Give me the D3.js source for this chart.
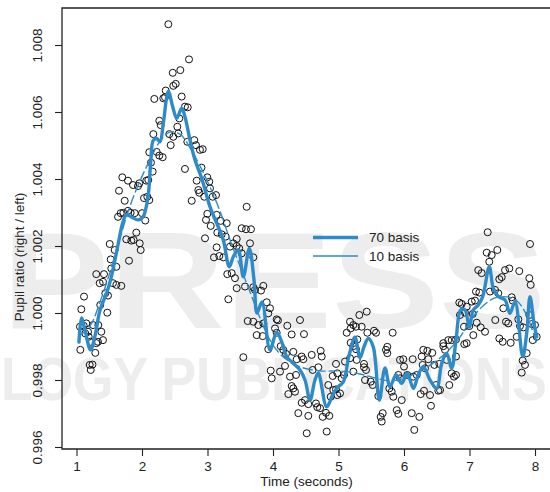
<!DOCTYPE html>
<html>
<head>
<meta charset="utf-8">
<script src="https://cdn.jsdelivr.net/npm/d3@7"></script>
<style>
    body { margin: 0; background: white; }
    svg { display: block; font-family: 'Liberation Sans', Arial, Helvetica, sans-serif; }
</style>
</head>
<body>
<svg class="main" width="550" height="492"></svg>
<script>
// observations: [time (s), pupil ratio]
const observations = [
    [1.058,0.99890],[1.073,1.00011],[1.115,1.00049],[1.110,0.99962],[1.150,0.99969],[1.134,0.99939],
    [1.176,0.99944],[1.186,0.99929],[1.211,0.99914],[1.252,0.99964],[1.287,0.99881],[1.302,0.99910],
    [1.328,0.99914],[1.379,0.99944],[1.405,0.99919],[1.202,0.99845],[1.244,0.99846],[1.217,0.99830],
    [1.363,1.00024],[1.470,1.00001],[1.440,1.00059],[1.481,1.00052],[1.354,1.00089],[1.405,1.00093],
    [1.302,1.00116],[1.420,1.00116],[1.557,1.00089],[1.608,1.00084],[1.684,1.00081],[1.531,1.00133],
    [1.608,1.00138],[1.522,1.00160],[1.507,1.00206],[1.583,1.00188],[1.802,1.00156],[1.760,1.00220],
    [1.837,1.00216],[1.873,1.00218],[1.913,1.00240],[1.965,1.00208],[1.980,1.00188],[1.634,1.00287],
    [1.675,1.00298],[1.715,1.00299],[1.786,1.00305],[1.827,1.00299],[1.889,1.00298],[2.000,1.00298],
    [2.050,1.00276],[1.736,1.00335],[1.649,1.00365],[1.699,1.00405],[1.786,1.00395],[1.863,1.00382],
    [1.939,1.00379],[1.959,1.00387],[2.066,1.00395],[2.031,1.00343],[2.081,1.00347],[1.053,0.99959],
    [1.333,0.99964],[2.402,1.00862],[2.718,1.00757],[2.469,1.00717],[2.585,1.00725],[2.478,1.00678],
    [2.515,1.00684],[2.362,1.00664],[2.188,1.00639],[2.325,1.00641],[2.351,1.00644],[2.606,1.00646],
    [2.656,1.00616],[2.698,1.00614],[2.569,1.00581],[2.264,1.00574],[2.285,1.00561],[2.539,1.00556],
    [2.173,1.00534],[2.417,1.00534],[2.478,1.00526],[2.554,1.00536],[2.438,1.00501],[2.692,1.00511],
    [2.798,1.00516],[2.824,1.00501],[2.885,1.00487],[2.927,1.00489],[2.111,1.00480],[2.224,1.00481],
    [2.264,1.00470],[2.316,1.00465],[2.137,1.00449],[2.163,1.00422],[2.096,1.00397],[2.656,1.00430],
    [2.835,1.00395],[2.997,1.00405],[3.027,1.00392],[2.860,1.00367],[2.875,1.00359],[3.038,1.00372],
    [3.079,1.00347],[3.130,1.00352],[2.759,1.00335],[2.111,1.00337],[2.908,1.00434],[2.951,1.00347],
    [3.598,1.00317],[2.997,1.00296],[3.140,1.00293],[3.202,1.00275],[3.293,1.00268],[2.977,1.00278],
    [3.049,1.00260],[3.522,1.00253],[3.588,1.00250],[3.664,1.00250],[3.150,1.00240],[3.217,1.00235],
    [3.278,1.00228],[2.962,1.00223],[3.446,1.00221],[3.394,1.00208],[3.649,1.00208],[3.140,1.00196],
    [3.344,1.00198],[3.446,1.00200],[3.485,1.00193],[3.099,1.00166],[3.180,1.00170],[3.241,1.00166],
    [3.522,1.00178],[3.699,1.00166],[3.302,1.00116],[3.369,1.00119],[3.420,1.00104],[3.573,1.00079],
    [3.699,1.00077],[3.817,1.00067],[3.852,1.00081],[3.446,1.00074],[3.318,1.00041],[3.904,1.00032],
    [3.954,1.00014],[3.928,0.99999],[3.614,0.99976],[3.699,0.99974],[3.776,0.99964],[3.852,0.99969],
    [4.056,0.99981],[4.218,0.99962],[4.412,0.99979],[3.751,0.99934],[3.843,0.99931],[4.056,0.99941],
    [4.285,0.99936],[3.547,0.99868],[3.725,1.00069],[4.076,0.99978],[4.473,0.99937],[4.031,0.99954],
    [3.928,0.99892],[4.118,0.99901],[4.157,0.99890],[4.198,0.99878],[4.310,0.99884],[4.362,0.99862],
    [4.438,0.99870],[4.463,0.99862],[4.591,0.99875],[4.728,0.99887],[4.744,0.99870],[3.965,0.99828],
    [3.980,0.99805],[4.107,0.99825],[4.183,0.99842],[4.260,0.99810],[4.351,0.99815],[4.285,0.99782],
    [4.310,0.99775],[4.234,0.99758],[4.336,0.99765],[4.692,0.99838],[4.606,0.99830],[4.438,0.99732],
    [4.489,0.99740],[4.539,0.99728],[4.656,0.99730],[4.676,0.99719],[4.718,0.99716],[4.386,0.99701],
    [4.539,0.99693],[4.515,0.99641],[4.820,0.99646],[4.759,0.99690],[4.809,0.99702],[4.860,0.99693],
    [4.881,0.99750],[4.921,0.99770],[4.962,0.99772],[4.982,0.99755],[5.023,0.99760],[4.844,0.99785],
    [4.911,0.99812],[4.982,0.99820],[5.049,0.99805],[5.084,0.99815],[4.962,0.99848],[5.099,0.99855],
    [5.176,0.99865],[5.278,0.99860],[5.125,0.99941],[5.186,0.99954],[5.226,0.99964],[5.176,0.99974],
    [5.267,0.99959],[5.318,0.99994],[5.226,0.99901],[5.267,0.99892],[5.186,0.99911],[5.287,0.99921],
    [5.431,1.00004],[5.354,0.99959],[5.440,0.99941],[5.542,0.99947],[5.573,0.99941],[5.827,0.99941],
    [5.389,0.99848],[5.389,0.99838],[5.420,0.99830],[5.226,0.99825],[5.405,0.99800],[5.492,0.99795],
    [5.522,0.99785],[5.745,0.99899],[5.725,0.99890],[5.745,0.99880],[5.608,0.99752],[5.776,0.99775],
    [5.812,0.99765],[5.837,0.99750],[5.675,0.99701],[5.644,0.99690],[5.660,0.99676],[5.889,0.99710],
    [5.913,0.99699],[5.965,0.99740],[6.118,0.99701],[6.234,0.99690],[6.157,0.99651],[5.913,0.99815],
    [5.939,0.99805],[5.939,0.99860],[5.989,0.99862],[6.000,0.99840],[6.050,0.99815],[6.142,0.99810],
    [6.194,0.99815],[6.133,0.99862],[6.270,0.99870],[6.295,0.99890],[6.356,0.99887],[6.371,0.99862],
    [6.432,0.99881],[6.285,0.99845],[6.321,0.99835],[6.255,0.99758],[6.305,0.99768],[6.397,0.99755],
    [6.412,0.99723],[6.489,0.99785],[6.524,0.99768],[6.463,0.99845],[6.539,0.99848],[6.692,0.99785],
    [6.600,0.99910],[6.676,0.99919],[6.728,0.99919],[6.728,0.99820],[6.763,0.99810],[6.794,0.99815],
    [6.626,0.99890],[6.844,1.00031],[7.278,1.00241],[7.924,1.00206],[7.263,1.00180],[7.339,1.00173],
    [7.424,1.00188],[7.302,1.00153],[7.134,1.00128],[7.186,1.00119],[7.608,1.00133],[7.542,1.00128],
    [7.492,1.00107],[7.455,1.00101],[7.760,1.00125],[7.913,1.00104],[7.934,1.00084],[7.150,1.00061],
    [7.099,1.00064],[7.313,1.00064],[7.389,1.00069],[7.440,1.00059],[7.644,1.00047],[7.660,1.00037],
    [7.516,1.00014],[6.881,1.00027],[6.957,1.00019],[7.034,1.00034],[7.084,1.00037],[6.855,0.99994],
    [6.931,1.00001],[7.049,0.99997],[7.110,0.99971],[7.171,0.99957],[7.237,0.99944],[6.916,0.99959],
    [6.997,0.99961],[7.394,0.99979],[7.557,0.99974],[7.592,0.99969],[7.745,0.99981],[7.771,0.99961],
    [7.821,0.99957],[7.913,0.99994],[7.950,0.99967],[8.000,0.99964],[8.026,0.99929],[7.965,0.99919],
    [7.058,0.99934],[6.957,0.99910],[6.921,0.99907],[7.455,0.99924],[7.507,0.99914],[7.629,0.99911],
    [7.721,0.99929],[6.600,0.99901],[6.794,0.99921],[6.794,0.99870],[6.652,0.99860],[7.812,0.99858],
    [7.847,0.99845],[7.873,0.99880],[7.797,0.99822],[6.550,0.99770]
];

// fitted curve, 70 basis functions
const fit70 = [
    [1.038,0.99913],[1.076,0.99985],[1.130,0.99949],[1.214,0.99890],[1.282,0.99931],[1.359,1.00009],
    [1.461,1.00060],[1.531,1.00107],[1.618,1.00188],[1.710,1.00272],[1.760,1.00293],[1.837,1.00287],
    [1.939,1.00278],[2.015,1.00287],[2.092,1.00347],[2.130,1.00442],[2.173,1.00516],[2.224,1.00521],
    [2.275,1.00511],[2.325,1.00566],[2.402,1.00661],[2.469,1.00616],[2.530,1.00581],[2.606,1.00611],
    [2.656,1.00586],[2.733,1.00516],[2.809,1.00457],[2.911,1.00402],[3.038,1.00317],[3.140,1.00268],
    [3.241,1.00218],[3.333,1.00138],[3.394,1.00168],[3.470,1.00188],[3.547,1.00108],[3.638,1.00193],
    [3.710,1.00099],[3.756,1.00000],[3.832,1.00033],[3.954,0.99890],[4.056,0.99943],[4.133,0.99914],
    [4.209,0.99870],[4.310,0.99850],[4.412,0.99830],[4.489,0.99800],[4.565,0.99740],[4.641,0.99800],
    [4.692,0.99821],[4.820,0.99720],[4.921,0.99760],[4.997,0.99780],[5.073,0.99794],[5.160,0.99872],
    [5.252,0.99928],[5.328,0.99866],[5.389,0.99899],[5.455,0.99924],[5.531,0.99899],[5.623,0.99740],
    [5.710,0.99836],[5.786,0.99780],[5.878,0.99815],[5.965,0.99790],[6.050,0.99820],[6.142,0.99775],
    [6.218,0.99815],[6.295,0.99840],[6.397,0.99800],[6.499,0.99775],[6.576,0.99850],[6.652,0.99880],
    [6.728,0.99835],[6.794,0.99919],[6.866,1.00009],[6.931,1.00009],[6.997,0.99958],[7.058,1.00009],
    [7.134,1.00024],[7.202,1.00049],[7.302,1.00138],[7.363,1.00074],[7.440,1.00049],[7.542,1.00039],
    [7.618,0.99999],[7.695,1.00034],[7.812,0.99870],[7.873,0.99939],[7.924,1.00049],[7.985,0.99969],
    [8.026,0.99929]
];

// fitted curve, 10 basis functions
const fit10 = [
    [1.038,0.99931],[1.206,0.99961],[1.359,1.00033],[1.511,1.00122],[1.664,1.00224],[1.817,1.00319],
    [1.969,1.00394],[2.122,1.00457],[2.275,1.00513],[2.427,1.00540],[2.580,1.00534],[2.733,1.00493],
    [2.885,1.00439],[3.038,1.00376],[3.191,1.00304],[3.344,1.00218],[3.496,1.00140],[3.649,1.00063],
    [3.802,0.99985],[3.954,0.99919],[4.107,0.99878],[4.260,0.99854],[4.412,0.99839],[4.718,0.99827],
    [5.023,0.99827],[5.328,0.99818],[5.557,0.99806],[5.786,0.99797],[6.015,0.99806],[6.244,0.99827],
    [6.473,0.99854],[6.702,0.99893],[6.855,0.99928],[7.053,0.99988],[7.206,1.00021],[7.389,1.00045],
    [7.573,1.00048],[7.725,1.00036],[7.878,0.99991],[8.031,0.99904]
];

const xTicks = [1, 2, 3, 4, 5, 6, 7, 8],
    yTicks = [0.996, 0.998, 1.000, 1.002, 1.004, 1.006, 1.008],
    legendLabels = ['70 basis', '10 basis'],
    xTitle = 'Time (seconds)',
    yTitle = 'Pupil ratio (right / left)';

const blue = '#2f8ac8',
    frame = { left: 62, top: 8, right: 552, bottom: 449 },
    fontSize = 13.5;

const svg = d3.select('svg.main');

// faint publisher watermark behind the plot
const mark = svg.append('g').attr('fill', '#ededed').attr('font-weight', 'bold');

mark.append('text')
    .attr('x', 2)
    .attr('y', 328)
    .attr('font-size', 138)
    .attr('textLength', 544)
    .attr('lengthAdjust', 'spacingAndGlyphs')
    .text('PRESS');

mark.append('text')
    .attr('x', 1)
    .attr('y', 400)
    .attr('font-size', 62)
    .attr('textLength', 546)
    .attr('lengthAdjust', 'spacingAndGlyphs')
    .text('LOGY PUBLICATIONS');

const x = d3.scaleLinear().domain([1, 8]).range([76.5, 535]),
    y = d3.scaleLinear().domain([0.996, 1.008]).range([447, 45]);

// axes
const xAxis = svg.append('g')
    .attr('transform', 'translate(0,' + frame.bottom + ')')
    .call(d3.axisBottom(x).tickValues(xTicks).tickSize(7).tickFormat(d3.format('d')));

xAxis.select('.domain').remove();
xAxis.selectAll('line').attr('stroke', '#222').attr('stroke-width', 1.1);
xAxis.selectAll('text')
    .attr('y', 22)
    .attr('dy', 0)
    .attr('fill', '#222')
    .attr('font-size', fontSize)
    .attr('font-family', null);

const yAxis = svg.append('g')
    .attr('transform', 'translate(' + frame.left + ',0)')
    .call(d3.axisLeft(y).tickValues(yTicks).tickSize(7).tickFormat(d3.format('.3f')));

yAxis.select('.domain').remove();
yAxis.selectAll('line').attr('stroke', '#222').attr('stroke-width', 1.1);
yAxis.selectAll('text')
    .attr('x', 0)
    .attr('y', -20)
    .attr('dy', 0)
    .attr('text-anchor', 'middle')
    .attr('transform', 'rotate(-90)')
    .attr('fill', '#222')
    .attr('font-size', fontSize)
    .attr('font-family', null);

// plot frame
svg.append('path')
    .attr('d', 'M' + frame.right + ',' + frame.top + 'H' + frame.left + 'V' + frame.bottom + 'H' + frame.right)
    .attr('fill', 'none')
    .attr('stroke', '#222')
    .attr('stroke-width', 1.3);

svg.append('text')
    .attr('transform', 'translate(306.5,486)')
    .attr('text-anchor', 'middle')
    .attr('font-size', fontSize)
    .attr('fill', '#222')
    .text(xTitle);

svg.append('text')
    .attr('transform', 'translate(24,257) rotate(-90)')
    .attr('text-anchor', 'middle')
    .attr('font-size', fontSize)
    .attr('fill', '#222')
    .text(yTitle);

// raw samples
svg.append('g')
    .selectAll('circle')
    .data(observations)
    .enter()
    .append('circle')
    .attr('cx', d => x(d[0]))
    .attr('cy', d => y(d[1]))
    .attr('r', 3.5)
    .attr('fill', 'none')
    .attr('stroke', '#111')
    .attr('stroke-width', 1);

const line = d3.line()
    .x(d => x(d[0]))
    .y(d => y(d[1]))
    .curve(d3.curveCatmullRom.alpha(0.5));

svg.append('path')
    .datum(fit10)
    .attr('d', line)
    .attr('fill', 'none')
    .attr('stroke', blue)
    .attr('stroke-width', 1.4)
    .attr('stroke-dasharray', '10,3');

svg.append('path')
    .datum(fit70)
    .attr('d', line)
    .attr('fill', 'none')
    .attr('stroke', blue)
    .attr('stroke-width', 3.4)
    .attr('stroke-linejoin', 'round')
    .attr('stroke-linecap', 'round');

// legend
const legend = svg.append('g')
    .selectAll('g')
    .data(legendLabels)
    .enter()
    .append('g')
    .attr('transform', (d, i) => 'translate(313,' + (237.5 + i * 18.5) + ')');

legend.append('line')
    .attr('x1', 0)
    .attr('x2', 45)
    .attr('stroke', blue)
    .attr('stroke-width', (d, i) => i === 0 ? 3.4 : 1.4);

legend.append('text')
    .attr('x', 56)
    .attr('dy', '0.36em')
    .attr('font-size', fontSize)
    .attr('fill', '#222')
    .text(d => d);
</script>
</body>
</html>
